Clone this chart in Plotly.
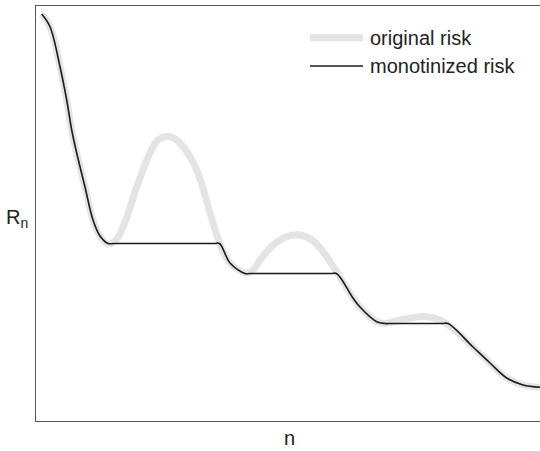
import plotly.graph_objects as go

# Original (non-monotone) risk curve
n_orig = [5.7, 14, 24, 30.7, 35.7, 40.7, 49, 57, 64, 72, 80, 89, 100.7, 114, 122, 133, 144,
          160.7, 174, 184, 194, 209, 216, 224, 237.3, 250, 264, 276, 284, 300.7, 317, 324, 340.7,
          349, 364, 389, 404, 416, 437, 454, 470.7, 487, 504]
r_orig = [407, 394.3, 354.3, 321, 291, 268, 234, 201, 185, 177, 181, 199, 234, 268, 281, 284.5, 278,
          251, 208, 177, 158, 148.5, 150, 161, 176, 184, 186, 181, 173, 149.3, 123, 114, 99.3,
          97.5, 101, 104.5, 101, 93, 74, 58, 43, 36, 33.7]

# Monotonized risk curve (running minimum)
n_mono = [5.7, 14, 24, 30.7, 35.7, 40.7, 49, 57, 64, 72, 78, 178, 183.5, 194, 209, 214, 295, 300.5,
          317, 324, 340.7, 349, 355, 406, 412, 437, 454, 470.7, 487, 504]
r_mono = [407, 394.3, 354.3, 321, 291, 268, 234, 201, 185, 177.5, 177.5, 177.5, 177.5, 158, 147.5, 147.5,
          147.5, 147.5, 123, 114, 99.3, 97.5, 97.5, 97.5, 97.5, 74, 58, 43, 36, 33.7]

legend_labels = ["original risk", "monotinized risk"]
x_label = "n"
y_label = "R<sub>n</sub>"

fig = go.Figure()
fig.add_trace(go.Scatter(x=n_orig, y=r_orig, mode="lines",
                         line=dict(color="#e4e4e4", width=7, shape="spline", smoothing=1.1),
                         name=legend_labels[0], showlegend=False))
fig.add_trace(go.Scatter(x=n_mono, y=r_mono, mode="lines",
                         line=dict(color="#1a1a1a", width=1.6, shape="spline", smoothing=1.0),
                         name=legend_labels[1], showlegend=False))

font = dict(family="Liberation Sans, Arial, sans-serif", size=20, color="#222222")

shapes = [
    dict(type="line", xref="paper", yref="paper", x0=0.5437, x1=0.6488, y0=0.9236, y1=0.9236,
         line=dict(color="#e4e4e4", width=7)),
    dict(type="line", xref="paper", yref="paper", x0=0.5437, x1=0.6488, y0=0.8554, y1=0.8554,
         line=dict(color="#1a1a1a", width=1.6)),
]
annotations = [
    dict(text=legend_labels[0], xref="paper", yref="paper", x=0.6587, y=0.9236,
         xanchor="left", yanchor="middle", showarrow=False, font=font),
    dict(text=legend_labels[1], xref="paper", yref="paper", x=0.6587, y=0.8554,
         xanchor="left", yanchor="middle", showarrow=False, font=font),
    dict(text=x_label, xref="paper", yref="paper", x=0.502, y=-0.0723,
         xanchor="center", yanchor="bottom", showarrow=False, font=font),
    dict(text=y_label, xref="paper", yref="paper", x=-0.037, y=0.489,
         xanchor="center", yanchor="middle", showarrow=False, font=font),
]

axis_common = dict(showline=True, mirror=True, linecolor="#555555", linewidth=1,
                   showgrid=False, zeroline=False, showticklabels=False, ticks="")
fig.update_layout(
    width=540, height=451,
    margin=dict(l=36, r=0, t=6, b=30),
    paper_bgcolor="white", plot_bgcolor="white",
    xaxis=dict(range=[0, 504], **axis_common),
    yaxis=dict(range=[0, 415], **axis_common),
    shapes=shapes, annotations=annotations,
    showlegend=False,
)
fig.write_html("out.html", config={"displayModeBar": False},
               post_script="document.body.style.margin='0';document.body.style.overflow='hidden';")
